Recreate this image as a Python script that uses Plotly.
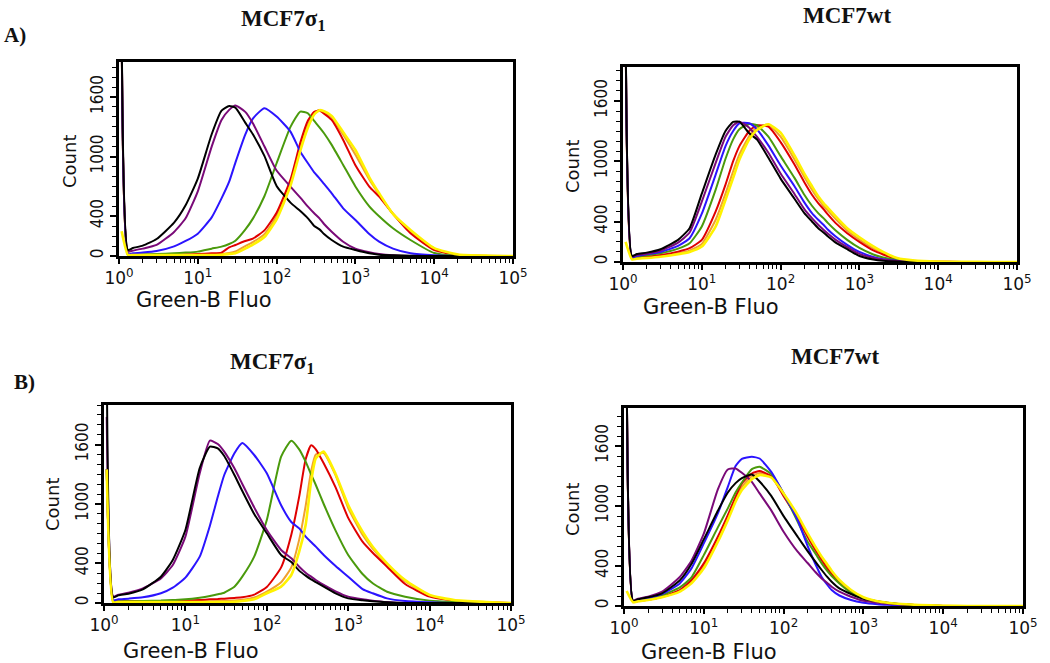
import plotly.graph_objects as go

W, H = 1050, 663

# Channel (Green-B fluorescence) bins shared by all histograms
fluor = [1.08, 1.3, 1.5, 2, 3, 5, 7, 10, 15, 20, 25, 30, 40, 50, 70, 100, 150, 200, 250,
         300, 350, 400, 500, 700, 1000, 1500, 2000, 3000, 5000, 10000, 20000, 50000, 100000]

# ---- Panel A, MCF7 sigma1 ----
a_s1_black = [2400, 60, 80, 104, 171, 336, 510, 779, 1225, 1463, 1510, 1493, 1342, 1225, 1007, 705, 537, 453, 379, 302, 268, 221, 161, 94, 60, 27, 13, 7, 2, 0, 0, 0, 0]
a_s1_purple = [2400, 44, 54, 74, 111, 242, 379, 651, 1101, 1369, 1470, 1514, 1450, 1336, 1104, 860, 698, 587, 497, 430, 379, 322, 245, 144, 74, 37, 20, 7, 0, 0, 0, 0, 0]
a_s1_blue = [2400, 20, 27, 34, 50, 97, 151, 225, 389, 580, 748, 940, 1222, 1383, 1487, 1403, 1252, 1050, 933, 842, 782, 725, 631, 480, 362, 221, 144, 74, 27, 7, 0, 0, 0]
a_s1_green = [2400, 13, 15, 17, 20, 27, 34, 44, 74, 94, 121, 154, 265, 376, 601, 933, 1299, 1453, 1436, 1359, 1295, 1235, 1118, 916, 700, 500, 400, 279, 161, 30, 0, 0, 0]
a_s1_red = [2400, 13, 13, 13, 13, 13, 17, 20, 27, 34, 87, 111, 151, 175, 258, 436, 769, 1141, 1363, 1450, 1463, 1433, 1369, 1168, 913, 698, 597, 423, 228, 60, 10, 0, 0]
a_s1_orange = [2400, 10, 10, 10, 10, 10, 10, 12, 15, 20, 30, 45, 100, 140, 220, 400, 740, 1100, 1320, 1440, 1470, 1450, 1395, 1220, 1020, 770, 620, 425, 250, 75, 12, 2, 0]
a_s1_yellow = [250, 10, 10, 10, 10, 10, 10, 10, 10, 12, 20, 27, 74, 114, 191, 369, 708, 1060, 1292, 1423, 1467, 1456, 1410, 1245, 1067, 792, 631, 423, 262, 80, 15, 3, 0]

# ---- Panel A, MCF7wt ----
a_wt_black = [2400, 60, 80, 93, 127, 220, 336, 680, 1069, 1302, 1392, 1395, 1279, 1219, 1036, 829, 629, 486, 403, 336, 293, 253, 193, 127, 60, 25, 12, 4, 0, 0, 0, 0, 0]
a_wt_purple = [2400, 53, 70, 83, 113, 193, 293, 600, 986, 1245, 1359, 1395, 1335, 1245, 1086, 879, 676, 526, 436, 370, 320, 280, 220, 147, 80, 40, 22, 10, 3, 0, 0, 0, 0]
a_wt_blue = [2400, 47, 60, 77, 100, 160, 236, 480, 869, 1152, 1302, 1379, 1379, 1319, 1159, 959, 753, 593, 486, 420, 370, 320, 253, 170, 100, 50, 28, 12, 4, 0, 0, 0, 0]
a_wt_green = [2400, 40, 53, 67, 87, 133, 186, 353, 719, 1026, 1219, 1319, 1372, 1359, 1245, 1052, 836, 669, 559, 486, 436, 386, 313, 220, 140, 75, 45, 22, 8, 0, 0, 0, 0]
a_wt_red = [2400, 33, 43, 53, 70, 103, 137, 220, 503, 769, 1002, 1152, 1302, 1359, 1345, 1192, 969, 793, 669, 586, 526, 470, 386, 286, 200, 115, 75, 30, 10, 3, 0, 0, 0]
a_wt_orange = [2400, 30, 37, 47, 60, 87, 113, 180, 420, 679, 902, 1069, 1252, 1335, 1365, 1245, 1019, 846, 719, 626, 559, 509, 426, 313, 222, 135, 90, 35, 12, 4, 0, 0, 0]
a_wt_yellow = [200, 27, 33, 40, 53, 77, 100, 153, 353, 619, 836, 1019, 1219, 1312, 1369, 1285, 1059, 879, 753, 653, 586, 536, 453, 336, 246, 155, 100, 40, 15, 5, 2, 0, 0]

# ---- Panel B, MCF7 sigma1 ----
b_s1_black = [2500, 57, 77, 94, 138, 266, 434, 737, 1364, 1579, 1562, 1485, 1293, 1131, 899, 704, 485, 414, 327, 276, 239, 212, 165, 98, 47, 27, 17, 7, 0, 0, 0, 0, 0]
b_s1_purple = [1880, 64, 84, 104, 148, 249, 384, 670, 1310, 1640, 1606, 1529, 1360, 1202, 966, 737, 535, 451, 367, 306, 266, 232, 182, 118, 64, 37, 24, 10, 0, 0, 0, 0, 0]
b_s1_blue = [1350, 30, 37, 44, 57, 98, 155, 256, 468, 781, 1074, 1293, 1512, 1616, 1495, 1310, 987, 818, 754, 670, 616, 569, 485, 374, 266, 141, 98, 47, 20, 7, 0, 0, 0]
b_s1_green = [1350, 17, 17, 17, 20, 24, 30, 37, 54, 71, 88, 104, 165, 266, 468, 838, 1478, 1640, 1552, 1428, 1300, 1192, 1000, 731, 485, 293, 199, 114, 64, 24, 10, 0, 0]
b_s1_red = [1350, 20, 20, 20, 20, 20, 22, 25, 30, 37, 40, 44, 51, 57, 84, 162, 360, 690, 1074, 1451, 1593, 1552, 1411, 1168, 860, 620, 508, 367, 192, 64, 24, 7, 0]
b_s1_orange = [1350, 8, 10, 10, 10, 10, 12, 14, 16, 18, 20, 22, 26, 32, 55, 115, 210, 360, 640, 980, 1330, 1500, 1515, 1290, 960, 690, 550, 390, 220, 75, 25, 8, 0]
b_s1_yellow = [1350, 7, 10, 10, 10, 10, 10, 10, 10, 10, 10, 10, 13, 20, 37, 98, 165, 283, 518, 788, 1226, 1461, 1529, 1303, 990, 720, 569, 401, 232, 81, 30, 10, 0]

# ---- Panel B, MCF7wt ----
b_wt_black = [2400, 50, 67, 87, 127, 256, 420, 666, 952, 1135, 1229, 1279, 1315, 1245, 1102, 899, 693, 549, 443, 360, 293, 243, 176, 120, 73, 47, 33, 17, 7, 0, 0, 0, 0]
b_wt_purple = [2400, 53, 73, 93, 143, 290, 453, 723, 1166, 1365, 1375, 1332, 1242, 1126, 956, 743, 543, 430, 340, 276, 233, 193, 143, 93, 53, 33, 23, 13, 7, 0, 0, 0, 0]
b_wt_blue = [2400, 47, 60, 80, 120, 226, 376, 626, 926, 1192, 1399, 1472, 1492, 1475, 1342, 1126, 860, 600, 420, 290, 215, 160, 105, 60, 33, 18, 12, 6, 0, 0, 0, 0, 0]
b_wt_green = [2400, 43, 57, 73, 107, 186, 286, 509, 786, 976, 1135, 1235, 1369, 1392, 1319, 1126, 842, 643, 526, 426, 353, 300, 226, 133, 77, 43, 30, 17, 7, 0, 0, 0, 0]
b_wt_red = [2400, 40, 50, 63, 93, 160, 260, 426, 693, 909, 1092, 1225, 1325, 1349, 1299, 1099, 876, 693, 559, 460, 376, 320, 243, 143, 80, 43, 30, 17, 7, 0, 0, 0, 0]
b_wt_orange = [2400, 38, 48, 62, 90, 150, 243, 400, 668, 884, 1067, 1192, 1297, 1330, 1292, 1112, 892, 710, 576, 476, 398, 336, 251, 151, 83, 45, 31, 18, 8, 2, 0, 0, 0]
b_wt_yellow = [150, 37, 47, 60, 87, 143, 226, 376, 643, 859, 1042, 1159, 1269, 1309, 1285, 1126, 909, 726, 593, 493, 420, 353, 260, 160, 87, 47, 33, 20, 10, 3, 0, 0, 0]

x_tickvals = [1, 10, 100, 1000, 10000, 100000]
x_ticktext = ["10<sup>0</sup>", "10<sup>1</sup>", "10<sup>2</sup>", "10<sup>3</sup>", "10<sup>4</sup>", "10<sup>5</sup>"]
y_tickvals = [0, 400, 1000, 1600]
y_ticktext = ["0", "400", "1000", "1600"]

colors = {"orange": "#f0a030", "red": "#e00000", "green": "#4a9a0c", "blue": "#2b14ff",
          "purple": "#7a0a78", "black": "#000000", "yellow": "#fff200"}
draw_order = ["orange", "red", "green", "blue", "purple", "black", "yellow"]

panels = [
    dict(series={"black": a_s1_black, "purple": a_s1_purple, "blue": a_s1_blue, "green": a_s1_green,
                 "red": a_s1_red, "orange": a_s1_orange, "yellow": a_s1_yellow},
         xd=(119, 513), yd=(62, 256), ymax=1952),
    dict(series={"black": a_wt_black, "purple": a_wt_purple, "blue": a_wt_blue, "green": a_wt_green,
                 "red": a_wt_red, "orange": a_wt_orange, "yellow": a_wt_yellow},
         xd=(623, 1017), yd=(67, 262), ymax=1938),
    dict(series={"black": b_s1_black, "purple": b_s1_purple, "blue": b_s1_blue, "green": b_s1_green,
                 "red": b_s1_red, "orange": b_s1_orange, "yellow": b_s1_yellow},
         xd=(104, 511), yd=(405, 603), ymax=2000),
    dict(series={"black": b_wt_black, "purple": b_wt_purple, "blue": b_wt_blue, "green": b_wt_green,
                 "red": b_wt_red, "orange": b_wt_orange, "yellow": b_wt_yellow},
         xd=(624, 1023), yd=(408, 606), ymax=1980),
]

minor_x = [k * 10 ** d for d in range(5) for k in range(2, 10)]

fig = go.Figure()
layout = dict(width=W, height=H, autosize=False, margin=dict(l=0, r=0, t=0, b=0, pad=0, autoexpand=False),
              paper_bgcolor="white", plot_bgcolor="white", showlegend=False)

for i, p in enumerate(panels):
    n = "" if i == 0 else str(i + 1)
    for c in draw_order:
        fig.add_trace(go.Scatter(x=fluor, y=p["series"][c], mode="lines",
                                 line=dict(color=colors[c], width=2.6 if c == "yellow" else 2,
                                           shape="spline", smoothing=0.5),
                                 xaxis="x" + n, yaxis="y" + n, hoverinfo="skip"))
    layout["xaxis" + n] = dict(
        type="log", range=[0, 5], domain=[p["xd"][0] / W, p["xd"][1] / W], anchor="y" + n,
        automargin=False,
        tickvals=x_tickvals, ticktext=x_ticktext, ticks="outside", ticklen=5, tickwidth=1.5,
        tickcolor="black", showline=True, linewidth=2.5, linecolor="black", mirror=True,
        showgrid=False, zeroline=False,
        tickfont=dict(family="DejaVu Sans", size=17, color="#111"),
        minor=dict(tickvals=minor_x, ticks="outside", ticklen=4, tickwidth=1.2,
                   tickcolor="black", showgrid=False))
    layout["yaxis" + n] = dict(
        range=[0, p["ymax"]], domain=[1 - p["yd"][1] / H, 1 - p["yd"][0] / H], anchor="x" + n,
        automargin=False,
        tickvals=y_tickvals, ticktext=y_ticktext, tickangle=-90, ticks="outside", ticklen=6,
        tickwidth=1.5, tickcolor="black", showline=True, linewidth=2.5, linecolor="black",
        mirror=True, showgrid=False, zeroline=False,
        tickfont=dict(family="DejaVu Sans Condensed, DejaVu Sans", size=17, color="#111"),
        minor=dict(tickmode="linear", tick0=0, dtick=100, ticks="outside", ticklen=4,
                   tickwidth=1.2, tickcolor="black", showgrid=False))

def ann(text, x, y, size, family, angle=0, bold=False):
    return dict(text=("<b>%s</b>" % text) if bold else text, x=x / W, y=1 - y / H,
                xref="paper", yref="paper", xanchor="center", yanchor="middle",
                showarrow=False, textangle=angle,
                font=dict(family=family, size=size, color="#111"))

serif = "Liberation Serif, Times New Roman, serif"
sans = "DejaVu Sans, Verdana, sans-serif"
annotations = [
    ann("A)", 15, 35, 21, serif, bold=True),
    ann("B)", 24, 382, 21, serif, bold=True),
    ann("MCF7σ<sub>1</sub>", 283, 20, 23, serif, bold=True),
    ann("MCF7wt", 847, 15, 23, serif, bold=True),
    ann("MCF7σ<sub>1</sub>", 272, 363, 23, serif, bold=True),
    ann("MCF7wt", 835, 356, 23, serif, bold=True),
    ann("Count", 69, 162, 18, sans, angle=-90),
    ann("Count", 572, 167, 18, sans, angle=-90),
    ann("Count", 52, 505, 18, sans, angle=-90),
    ann("Count", 572, 510, 18, sans, angle=-90),
    ann("Green-B Fluo", 204, 300, 21, sans),
    ann("Green-B Fluo", 711, 307, 21, sans),
    ann("Green-B Fluo", 191, 651, 21, sans),
    ann("Green-B Fluo", 709, 652, 21, sans),
]
layout["annotations"] = annotations
fig.update_layout(**layout)
fig.write_html("out.html", config={"displayModeBar": False, "responsive": False},
               post_script="document.body.style.margin='0px';document.body.style.overflow='hidden';")
